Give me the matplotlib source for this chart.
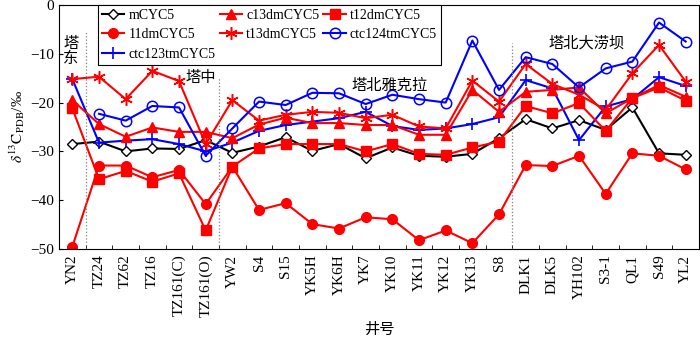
import numpy as np
import matplotlib
matplotlib.use("Agg")
import matplotlib.pyplot as plt

plt.rcParams['font.family'] = ['Liberation Serif', 'Noto Sans CJK SC', 'DejaVu Sans']
plt.rcParams['mathtext.fontset'] = 'stix'

# 井号
wells = ["YN2", "TZ24", "TZ62", "TZ16", "TZ161(C)", "TZ161(O)", "YW2", "S4", "S15",
         "YK5H", "YK6H", "YK7", "YK10", "YK11", "YK12", "YK13", "S8", "DLK1", "DLK5",
         "YH102", "S3-1", "QL1", "S49", "YL2"]

mCYC5 = [-28.5, -28.0, -30.0, -29.4, -29.5, -27.7, -30.3, -29.0, -27.1, -29.9, -28.5, -31.4,
         -29.2, -30.9, -31.1, -30.5, -27.3, -23.4, -25.3, -23.6, -25.6, -21.0, -30.4, -30.7]
c13dmCYC5 = [-19.5, -24.4, -27.0, -25.1, -26.0, -26.0, -27.3, -24.5, -23.1, -24.2, -24.2, -24.6,
             -24.6, -26.6, -26.6, -17.4, -21.9, -17.8, -17.4, -16.9, -22.2, -19.1, -16.4, -18.8]
t12dmCYC5 = [-21.2, -35.7, -34.0, -36.2, -34.5, -46.2, -33.1, -29.4, -28.5, -28.5, -28.5, -30.0,
             -28.5, -30.5, -30.7, -29.2, -28.0, -20.7, -22.2, -20.1, -25.8, -19.1, -16.9, -19.6]
dm11CYC5 = [-49.5, -32.9, -32.9, -35.3, -33.8, -40.8, -33.1, -42.0, -40.6, -44.9, -45.8, -43.5,
            -43.9, -48.2, -46.2, -48.8, -42.9, -32.8, -33.0, -30.9, -38.7, -30.4, -30.9, -33.7]
t13dmCYC5 = [-15.2, -14.7, -19.3, -13.5, -15.6, -28.5, -19.5, -23.7, -22.5, -21.9, -22.1, -23.2,
             -22.5, -24.9, -25.3, -15.5, -19.8, -12.1, -16.2, -18.4, -21.5, -14.0, -8.2, -15.7]
ctc124tmCYC5 = [np.nan, -22.3, -23.7, -20.7, -21.0, -30.9, -25.3, -19.8, -20.5, -18.0, -18.1, -20.3,
                -18.4, -19.3, -20.0, -7.3, -17.4, -10.7, -12.1, -16.9, -13.0, -11.6, -3.6, -7.5]
ctc123tmCYC5 = [-15.2, -28.2, -27.8, -27.5, -28.5, -30.0, -28.2, -25.8, -24.6, -23.9, -23.2, -21.9,
                -24.8, -25.6, -25.3, -24.4, -23.0, -15.4, -17.1, -27.7, -20.8, -19.3, -14.8, -16.6]

x = np.arange(len(wells))

fig = plt.figure(figsize=(7, 3.43), dpi=100)
ax = fig.add_axes([0.0843, 0.274, 0.9143, 0.7116])

red = '#ff0000'
blue = '#0000ff'
lw = 1.5

l1, = ax.plot(x, mCYC5, color='black', lw=lw, marker='D', ms=5, mfc='white', mec='black', mew=1.0, label='mCYC5')
l2, = ax.plot(x, dm11CYC5, color=red, lw=lw, marker='o', ms=7, label='11dmCYC5')
l3, = ax.plot(x, ctc123tmCYC5, color=blue, lw=lw, marker='+', ms=9, mew=1.2, label='ctc123tmCYC5')
l4, = ax.plot(x, c13dmCYC5, color=red, lw=lw, marker='^', ms=7, label='c13dmCYC5')
l5, = ax.plot(x, t13dmCYC5, color=red, lw=lw, marker=(6, 2, 0), ms=9, mew=1.1, label='t13dmCYC5')
l6, = ax.plot(x, t12dmCYC5, color=red, lw=lw, marker='s', ms=6.5, label='t12dmCYC5')
l7, = ax.plot(x, ctc124tmCYC5, color=blue, lw=lw, marker='o', ms=7.5, mfc='none', mec=blue, mew=1.1, label='ctc124tmCYC5')

# 分区虚线
ax.vlines(0.5, -50, -5.5, colors='gray', linestyles=':', lw=0.9)
ax.vlines(5.5, -50, -14.8, colors='gray', linestyles=':', lw=0.9)
ax.vlines(16.5, -50, -7.8, colors='gray', linestyles=':', lw=0.9)

ax.text(-0.05, -9.6, '塔\n东', ha='center', va='center', fontsize=11, linespacing=1.05)
ax.text(4.8, -15.0, '塔中', ha='center', va='center', fontsize=11)
ax.text(11.9, -16.5, '塔北雅克拉', ha='center', va='center', fontsize=11)
ax.text(19.3, -7.8, '塔北大涝坝', ha='center', va='center', fontsize=11)

ax.set_xlim(-0.5, 23.5)
ax.set_ylim(-50, 0)
ax.set_xticks(x)
ax.set_xticklabels(wells, rotation=90, fontsize=11)
ax.set_xticks(np.arange(0.5, 23.5, 1), minor=True)
ax.tick_params(axis='x', which='major', length=0, pad=4)
ax.tick_params(axis='x', which='minor', direction='in', length=3)
ax.set_yticks([0, -10, -20, -30, -40, -50])
ax.tick_params(axis='y', direction='in', length=3, labelsize=11)

ax.set_xlabel('井号', fontsize=11, labelpad=4)
ax.set_ylabel(r'$\delta^{13}\mathrm{C}_{\mathrm{PDB}}$/‰', fontsize=11, labelpad=2)

leg = ax.legend(handles=[l1, l2, l3, l4, l5, l6, l7], ncol=3, loc='upper left',
                bbox_to_anchor=(0.061, 1.0), borderaxespad=0, fontsize=10,
                fancybox=False, framealpha=1, edgecolor='black', handlelength=1.6,
                handletextpad=0.3, columnspacing=0.3, labelspacing=0.45, borderpad=0.3)
leg.get_frame().set_linewidth(0.8)

plt.savefig('out.png', dpi=100)
